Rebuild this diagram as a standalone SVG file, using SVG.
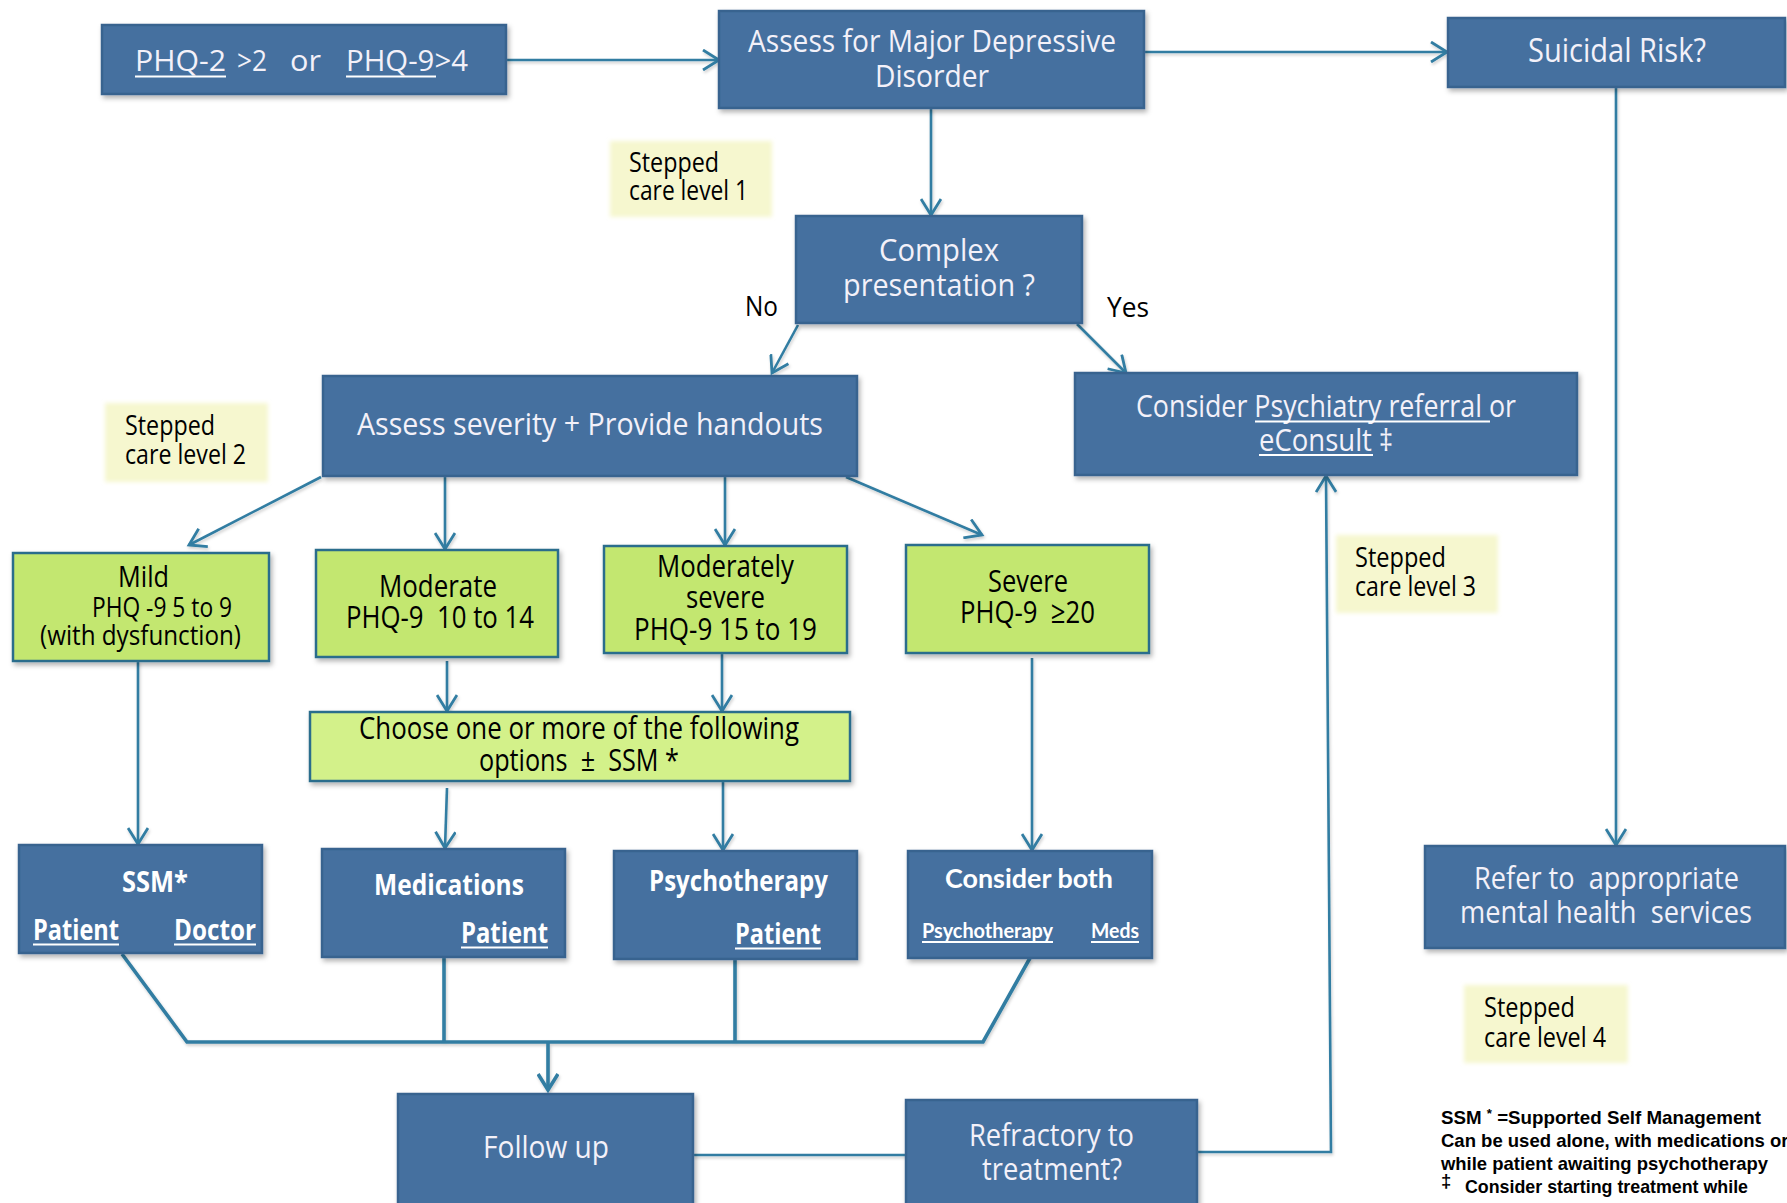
<svg xmlns="http://www.w3.org/2000/svg" width="1787" height="1203" viewBox="0 0 1787 1203">
  <defs>
    <style>
      .blue { fill: #44709f; stroke: #39638f; stroke-width: 2.5; }
      .green { fill: #c3e76f; stroke: #2c6d8c; stroke-width: 2.5; }
      .green2 { fill: #d3f18a; stroke: #2c6d8c; stroke-width: 2.5; }
      .note { fill: #f6f7cf; }
      .wt { font-family: "Open Sans", "Noto Sans", sans-serif; fill: #f3f1f9; }
      .wb { font-family: "Open Sans", "Noto Sans", sans-serif; font-weight: bold; fill: #ffffff; }
      .cb { font-family: Lato, "Open Sans", sans-serif; font-weight: bold; fill: #ffffff; }
      .bk { font-family: "Open Sans", "Noto Sans", sans-serif; fill: #000000; }
      .fn { font-family: "Liberation Sans", Arial, sans-serif; font-weight: bold; font-size: 18.5px; fill: #000000; }
      .ul { stroke: #ffffff; stroke-width: 2.2; }
      .conn { fill: none; stroke: #317da2; stroke-width: 2.6; }
      .thick { stroke-width: 3.6; }
    </style>
    <filter id="shadow" x="-10%" y="-10%" width="120%" height="130%">
      <feDropShadow dx="2" dy="3" stdDeviation="2.5" flood-color="#000" flood-opacity="0.3"/>
    </filter>
    <filter id="lshadow" x="-5%" y="-5%" width="110%" height="110%">
      <feDropShadow dx="1" dy="2" stdDeviation="1.5" flood-color="#000" flood-opacity="0.2"/>
    </filter>
    <filter id="soft" x="-15%" y="-15%" width="130%" height="140%">
      <feGaussianBlur stdDeviation="2.2"/>
    </filter>
    <marker id="arr" markerUnits="userSpaceOnUse" viewBox="0 0 20 22" markerWidth="20" markerHeight="22" refX="17" refY="11" orient="auto">
      <path d="M1,1 L17,11 L1,21" fill="none" stroke="#317da2" stroke-width="2.8"/>
    </marker>
    <marker id="arrB" markerUnits="userSpaceOnUse" viewBox="0 0 20 22" markerWidth="20" markerHeight="22" refX="17" refY="11" orient="auto">
      <path d="M1,1 L17,11 L1,21" fill="none" stroke="#317da2" stroke-width="3.6"/>
    </marker>
  </defs>

  <rect width="1787" height="1203" fill="#ffffff"/>

  <!-- connectors -->
  <g id="connectors" filter="url(#lshadow)">
    <path class="conn" d="M506,60 H719" marker-end="url(#arr)"/>
    <path class="conn" d="M1144,52 H1447" marker-end="url(#arr)"/>
    <path class="conn" d="M931,108 V215" marker-end="url(#arr)"/>
    <path class="conn" d="M798,325 L772,373" marker-end="url(#arr)"/>
    <path class="conn" d="M1077,324 L1126,373" marker-end="url(#arr)"/>
    <path class="conn" d="M1616,87 V845" marker-end="url(#arr)"/>
    <path class="conn" d="M321,477 L189,545" marker-end="url(#arr)"/>
    <path class="conn" d="M445,476 V549" marker-end="url(#arr)"/>
    <path class="conn" d="M725,476 V545" marker-end="url(#arr)"/>
    <path class="conn" d="M846,477 L982,535" marker-end="url(#arr)"/>
    <path class="conn" d="M447,661 V711" marker-end="url(#arr)"/>
    <path class="conn" d="M722,654 V711" marker-end="url(#arr)"/>
    <path class="conn" d="M138,661 V844" marker-end="url(#arr)"/>
    <path class="conn" d="M447,788 L445,848" marker-end="url(#arr)"/>
    <path class="conn" d="M723,781 V850" marker-end="url(#arr)"/>
    <path class="conn" d="M1032,658 V850" marker-end="url(#arr)"/>
    <path class="conn" d="M1197,1152 L1331,1152 L1326,476" marker-end="url(#arr)"/>
    <path class="conn" d="M693,1155 H906"/>
    <path class="conn thick" d="M122,954 L187,1042 H983 L1030,958"/>
    <path class="conn thick" d="M444,957 V1042"/>
    <path class="conn thick" d="M735,959 V1042"/>
    <path class="conn thick" d="M548,1042 V1090" marker-end="url(#arrB)"/>
  </g>

  <!-- stepped care notes -->
  <g id="note-level1">
    <rect class="note" x="610" y="141" width="162" height="76" filter="url(#soft)"/>
    <text class="bk" font-size="27" x="629" y="172" textLength="90" lengthAdjust="spacingAndGlyphs">Stepped</text>
    <text class="bk" font-size="27" x="629" y="200" textLength="119" lengthAdjust="spacingAndGlyphs">care level 1</text>
  </g>
  <g id="note-level2">
    <rect class="note" x="105" y="403" width="163" height="79" filter="url(#soft)"/>
    <text class="bk" font-size="27" x="125" y="435" textLength="90" lengthAdjust="spacingAndGlyphs">Stepped</text>
    <text class="bk" font-size="27" x="125" y="464" textLength="121" lengthAdjust="spacingAndGlyphs">care level 2</text>
  </g>
  <g id="note-level3">
    <rect class="note" x="1336" y="535" width="162" height="78" filter="url(#soft)"/>
    <text class="bk" font-size="27" x="1355" y="567" textLength="91" lengthAdjust="spacingAndGlyphs">Stepped</text>
    <text class="bk" font-size="27" x="1355" y="596" textLength="121" lengthAdjust="spacingAndGlyphs">care level 3</text>
  </g>
  <g id="note-level4">
    <rect class="note" x="1464" y="985" width="164" height="78" filter="url(#soft)"/>
    <text class="bk" font-size="27" x="1484" y="1017" textLength="91" lengthAdjust="spacingAndGlyphs">Stepped</text>
    <text class="bk" font-size="27" x="1484" y="1047" textLength="122" lengthAdjust="spacingAndGlyphs">care level 4</text>
  </g>

  <!-- top row -->
  <g id="phq-screen">
    <rect class="blue" x="102" y="25" width="404" height="69" filter="url(#shadow)"/>
    <text class="wt" font-size="30" x="135" y="71" textLength="91" lengthAdjust="spacingAndGlyphs">PHQ-2</text>
    <text class="wt" font-size="30" x="237" y="71" textLength="30" lengthAdjust="spacingAndGlyphs">&gt;2</text>
    <text class="wt" font-size="30" x="290" y="71" textLength="31" lengthAdjust="spacingAndGlyphs">or</text>
    <text class="wt" font-size="30" x="346" y="71" textLength="122" lengthAdjust="spacingAndGlyphs">PHQ-9&gt;4</text>
    <line class="ul" x1="135" y1="76.5" x2="226" y2="76.5"/>
    <line class="ul" x1="346" y1="76.5" x2="436" y2="76.5"/>
  </g>
  <g id="assess-mdd">
    <rect class="blue" x="719" y="11" width="425" height="97" filter="url(#shadow)"/>
    <text class="wt" font-size="31" x="748" y="52" textLength="368" lengthAdjust="spacingAndGlyphs">Assess for Major Depressive</text>
    <text class="wt" font-size="31" x="875" y="87" textLength="114" lengthAdjust="spacingAndGlyphs">Disorder</text>
  </g>
  <g id="suicidal-risk">
    <rect class="blue" x="1448" y="18" width="337" height="69" filter="url(#shadow)"/>
    <text class="wt" font-size="32" x="1528" y="62" textLength="178" lengthAdjust="spacingAndGlyphs">Suicidal Risk?</text>
  </g>

  <g id="complex">
    <rect class="blue" x="796" y="216" width="286" height="107" filter="url(#shadow)"/>
    <text class="wt" font-size="31" x="879" y="261" textLength="120" lengthAdjust="spacingAndGlyphs">Complex</text>
    <text class="wt" font-size="31" x="843" y="296" textLength="192" lengthAdjust="spacingAndGlyphs">presentation ?</text>
  </g>
  <g id="labels">
    <text class="bk" font-size="27" x="745" y="316" textLength="33" lengthAdjust="spacingAndGlyphs">No</text>
    <text class="bk" font-size="27" x="1107" y="317" textLength="42" lengthAdjust="spacingAndGlyphs">Yes</text>
  </g>

  <g id="assess-severity">
    <rect class="blue" x="323" y="376" width="534" height="100" filter="url(#shadow)"/>
    <text class="wt" font-size="31" x="357" y="435" textLength="466" lengthAdjust="spacingAndGlyphs">Assess severity + Provide handouts</text>
  </g>
  <g id="psychiatry-referral">
    <rect class="blue" x="1075" y="373" width="502" height="102" filter="url(#shadow)"/>
    <text class="wt" font-size="31" x="1136" y="417" textLength="380" lengthAdjust="spacingAndGlyphs">Consider Psychiatry referral or</text>
    <text class="wt" font-size="31" x="1259" y="451" textLength="134" lengthAdjust="spacingAndGlyphs">eConsult ‡</text>
    <line class="ul" x1="1255" y1="421.5" x2="1490" y2="421.5"/>
    <line class="ul" x1="1259" y1="455" x2="1373" y2="455"/>
  </g>

  <!-- severity levels -->
  <g id="mild">
    <rect class="green" x="13" y="553" width="256" height="108" filter="url(#shadow)"/>
    <text class="bk" font-size="30" x="118" y="587" textLength="51" lengthAdjust="spacingAndGlyphs">Mild</text>
    <text class="bk" font-size="27" x="92" y="617" textLength="140" lengthAdjust="spacingAndGlyphs">PHQ -9 5 to 9</text>
    <text class="bk" font-size="27" x="40" y="645" textLength="201" lengthAdjust="spacingAndGlyphs">(with dysfunction)</text>
  </g>
  <g id="moderate">
    <rect class="green" x="316" y="550" width="242" height="107" filter="url(#shadow)"/>
    <text class="bk" font-size="31" x="379" y="597" textLength="118" lengthAdjust="spacingAndGlyphs">Moderate</text>
    <text class="bk" font-size="31" x="346" y="628" textLength="188" lengthAdjust="spacingAndGlyphs" xml:space="preserve">PHQ-9  10 to 14</text>
  </g>
  <g id="moderately-severe">
    <rect class="green" x="604" y="546" width="243" height="107" filter="url(#shadow)"/>
    <text class="bk" font-size="31" x="657" y="577" textLength="137" lengthAdjust="spacingAndGlyphs">Moderately</text>
    <text class="bk" font-size="31" x="686" y="608" textLength="79" lengthAdjust="spacingAndGlyphs">severe</text>
    <text class="bk" font-size="31" x="634" y="640" textLength="183" lengthAdjust="spacingAndGlyphs">PHQ-9 15 to 19</text>
  </g>
  <g id="severe">
    <rect class="green" x="906" y="545" width="243" height="108" filter="url(#shadow)"/>
    <text class="bk" font-size="31" x="988" y="592" textLength="80" lengthAdjust="spacingAndGlyphs">Severe</text>
    <text class="bk" font-size="31" x="960" y="623" textLength="135" lengthAdjust="spacingAndGlyphs" xml:space="preserve">PHQ-9  ≥20</text>
  </g>

  <g id="choose-options">
    <rect class="green2" x="310" y="712" width="540" height="69" filter="url(#shadow)"/>
    <text class="bk" font-size="31" x="359" y="739" textLength="440" lengthAdjust="spacingAndGlyphs">Choose one or more of the following</text>
    <text class="bk" font-size="31" x="479" y="771" textLength="200" lengthAdjust="spacingAndGlyphs" xml:space="preserve">options  ±  SSM *</text>
  </g>

  <!-- treatment options -->
  <g id="ssm">
    <rect class="blue" x="19" y="845" width="243" height="108" filter="url(#shadow)"/>
    <text class="wb" font-size="28" x="122" y="892" textLength="66" lengthAdjust="spacingAndGlyphs">SSM*</text>
    <text class="wb" font-size="28" x="33" y="940" textLength="86" lengthAdjust="spacingAndGlyphs">Patient</text>
    <text class="wb" font-size="28" x="174" y="940" textLength="82" lengthAdjust="spacingAndGlyphs">Doctor</text>
    <line class="ul" x1="33" y1="944.5" x2="119" y2="944.5"/>
    <line class="ul" x1="174" y1="944.5" x2="256" y2="944.5"/>
  </g>
  <g id="medications">
    <rect class="blue" x="322" y="849" width="243" height="108" filter="url(#shadow)"/>
    <text class="wb" font-size="28" x="374" y="895" textLength="150" lengthAdjust="spacingAndGlyphs">Medications</text>
    <text class="wb" font-size="28" x="461" y="943" textLength="87" lengthAdjust="spacingAndGlyphs">Patient</text>
    <line class="ul" x1="461" y1="947.5" x2="548" y2="947.5"/>
  </g>
  <g id="psychotherapy">
    <rect class="blue" x="614" y="851" width="243" height="108" filter="url(#shadow)"/>
    <text class="wb" font-size="28" x="649" y="891" textLength="179" lengthAdjust="spacingAndGlyphs">Psychotherapy</text>
    <text class="wb" font-size="28" x="735" y="944" textLength="86" lengthAdjust="spacingAndGlyphs">Patient</text>
    <line class="ul" x1="735" y1="948.5" x2="821" y2="948.5"/>
  </g>
  <g id="consider-both">
    <rect class="blue" x="908" y="851" width="244" height="107" filter="url(#shadow)"/>
    <text class="cb" font-size="26" x="945" y="888" textLength="168" lengthAdjust="spacingAndGlyphs">Consider both</text>
    <text class="cb" font-size="20" x="922" y="938" textLength="131" lengthAdjust="spacingAndGlyphs">Psychotherapy</text>
    <text class="cb" font-size="20" x="1091" y="938" textLength="48" lengthAdjust="spacingAndGlyphs">Meds</text>
    <line class="ul" x1="922" y1="942" x2="1053" y2="942" stroke-width="1.8"/>
    <line class="ul" x1="1091" y1="942" x2="1139" y2="942" stroke-width="1.8"/>
  </g>
  <g id="refer-services">
    <rect class="blue" x="1425" y="846" width="360" height="102" filter="url(#shadow)"/>
    <text class="wt" font-size="31" x="1474" y="889" textLength="265" lengthAdjust="spacingAndGlyphs" xml:space="preserve">Refer to  appropriate</text>
    <text class="wt" font-size="31" x="1460" y="923" textLength="292" lengthAdjust="spacingAndGlyphs" xml:space="preserve">mental health  services</text>
  </g>

  <!-- bottom row -->
  <g id="follow-up">
    <rect class="blue" x="398" y="1094" width="295" height="120" filter="url(#shadow)"/>
    <text class="wt" font-size="31" x="483" y="1158" textLength="126" lengthAdjust="spacingAndGlyphs">Follow up</text>
  </g>
  <g id="refractory">
    <rect class="blue" x="906" y="1100" width="291" height="114" filter="url(#shadow)"/>
    <text class="wt" font-size="31" x="969" y="1146" textLength="165" lengthAdjust="spacingAndGlyphs">Refractory to</text>
    <text class="wt" font-size="31" x="982" y="1180" textLength="140" lengthAdjust="spacingAndGlyphs">treatment?</text>
  </g>

  <!-- footnote -->
  <g id="footnote">
    <text class="fn" x="1441" y="1124" textLength="320" lengthAdjust="spacingAndGlyphs">SSM <tspan font-size="13" dy="-6">*</tspan><tspan dy="6"> =Supported Self Management</tspan></text>
    <text class="fn" x="1441" y="1147">Can be used alone, with medications or</text>
    <text class="fn" x="1441" y="1170" textLength="327" lengthAdjust="spacingAndGlyphs">while patient awaiting psychotherapy</text>
    <text class="fn" x="1441" y="1187" font-size="13">‡</text>
    <text class="fn" x="1465" y="1193" textLength="283" lengthAdjust="spacingAndGlyphs">Consider starting treatment while</text>
  </g>
</svg>
